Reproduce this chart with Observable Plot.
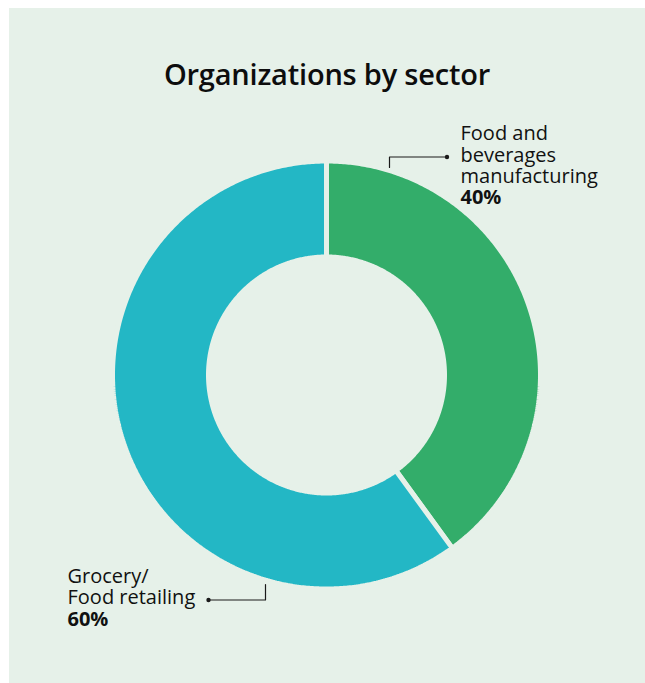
<!DOCTYPE html>
<html>
<head>
<meta charset="utf-8">
<script src="https://cdn.jsdelivr.net/npm/d3@7"></script>
<script src="https://cdn.jsdelivr.net/npm/@observablehq/plot@0.6"></script>
<style>
  html, body { margin: 0; padding: 0; background: #ffffff; }
  #panel { position: absolute; left: 9px; top: 8px; width: 636px; height: 675px; background: #e6f1e9; overflow: hidden; }
  #title { position: absolute; left: 0; width: 636px; top: 46px; text-align: center; font-family: "Open Sans", sans-serif; font-weight: 600; font-size: 29px; color: #0d0d0d; line-height: 40px; letter-spacing: -0.2px; }
  #chart { position: absolute; left: 0; top: 0; }
</style>
</head>
<body>
<div id="panel">
  <div id="chart"></div>
  <div id="title">Organizations by sector</div>
</div>
<script>
// ---- data ----
const sectors = ["Food and beverages manufacturing", "Grocery/Food retailing"];
const shares = [40, 60];
const sectorColors = ["#33ad6a", "#23b7c5"];
const labelLines = [["Food and", "beverages", "manufacturing"], ["Grocery/", "Food retailing"]];
const valueLabels = ["40%", "60%"];

// ---- geometry (pixels relative to donut centre, y up) ----
const W = 636, H = 675;
const cx = 317, cy = 366.5;          // centre inside the panel
const bg = "#e6f1e9";
const gap = 5;
const rOuter = 211.5 + gap / 2, rInner = 120.5 - gap / 2;

const total = d3.sum(shares);
let acc = 0;
const arcPts = [];
shares.forEach((v, i) => {
  const a0 = acc / total * 2 * Math.PI;
  acc += v;
  const a1 = acc / total * 2 * Math.PI;
  const n = Math.max(8, Math.ceil((a1 - a0) / (Math.PI / 360)));
  for (let k = 0; k <= n; ++k) {
    const a = a0 + (a1 - a0) * k / n;
    arcPts.push({sector: sectors[i], x: rOuter * Math.sin(a), y: rOuter * Math.cos(a)});
  }
  for (let k = n; k >= 0; --k) {
    const a = a0 + (a1 - a0) * k / n;
    arcPts.push({sector: sectors[i], x: rInner * Math.sin(a), y: rInner * Math.cos(a)});
  }
});

// label anchors (page px -> relative); page centre = (326, 374.5)
const P = (px, py) => [px - 326, 374.5 - py];
const labelAnchors = [
  {x: 460, y: 203.5},   // baseline of the last (value) line
  {x: 67, y: 625}
];
const leaders = [
  [[389, 167], [389, 156.5], [446.5, 156.5]],
  [[265, 584], [265, 599.5], [208, 599.5]]
];

const labels = labelLines.map((lines, i) => {
  const [x, y] = P(labelAnchors[i].x, labelAnchors[i].y);
  return {text: [...lines, valueLabels[i]].join("\n"), x, y};
});

const leaderPts = leaders.flatMap((pts, i) => pts.map(([px, py]) => { const [x, y] = P(px, py); return {i, x, y}; }));
const leaderDots = leaders.map((pts, i) => { const [x, y] = P(...pts[pts.length - 1]); return {i, x, y}; });

const chart = Plot.plot({
  width: W,
  height: H,
  margin: 0,
  style: {background: "transparent", overflow: "visible"},
  x: {domain: [-cx, W - cx], range: [0, W], axis: null},
  y: {domain: [-(H - cy), cy], range: [H, 0], axis: null},
  color: {domain: sectors, range: sectorColors},
  marks: [
    Plot.line(arcPts, {x: "x", y: "y", z: "sector", fill: "sector", stroke: bg, strokeWidth: gap, curve: "linear-closed", strokeLinejoin: "miter"}),
    Plot.line(leaderPts, {x: "x", y: "y", z: "i", stroke: "#1a1a1a", strokeWidth: 1.2}),
    Plot.dot(leaderDots, {x: "x", y: "y", r: 2.2, fill: "#1a1a1a", stroke: null}),
    Plot.text(labels, {x: "x", y: "y", text: "text", textAnchor: "start", lineAnchor: "bottom", lineHeight: 1.06, fontSize: 20, fontWeight: 400, fill: "#111", fontFamily: "Open Sans", className: "lbl"})
  ]
});
// value line of each label in bold
d3.select(chart).selectAll("text tspan:last-child").attr("font-weight", 700);
document.getElementById("chart").appendChild(chart);
</script>
</body>
</html>
